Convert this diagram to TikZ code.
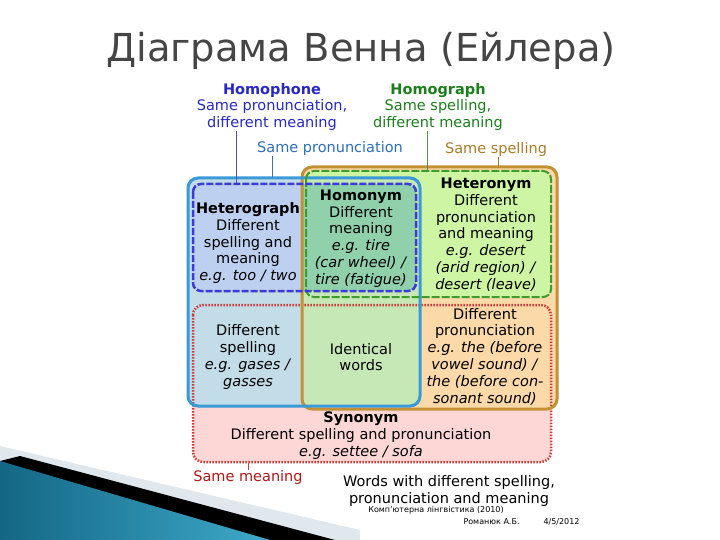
\documentclass[tikz,border=0pt]{standalone}
\usepackage{fontspec}
\setmainfont{DejaVu Sans}
\definecolor{pinkfill}{HTML}{FCD7D5}
\definecolor{orangefill}{HTML}{FBD9A8}
\definecolor{greenfill}{HTML}{CDF5A4}
\definecolor{bluefill}{HTML}{C2DDE8}
\definecolor{lavfill}{HTML}{BDD0EF}
\definecolor{identfill}{HTML}{C6E8B6}
\definecolor{homfill}{HTML}{90D1AC}
\definecolor{redline}{HTML}{CC3A3A}
\definecolor{blueline}{HTML}{3A9AD8}
\definecolor{dblueline}{HTML}{3B3BD6}
\definecolor{orangeline}{HTML}{C49035}
\definecolor{greenline}{HTML}{3C9C2C}
\definecolor{phonecol}{HTML}{2828C4}
\definecolor{graphcol}{HTML}{1C7E1C}
\definecolor{proncol}{HTML}{2E6FB8}
\definecolor{spellcol}{HTML}{A87D2A}
\definecolor{meancol}{HTML}{B01818}
\definecolor{titlecol}{HTML}{454545}
\definecolor{tealdark}{HTML}{146785}
\definecolor{teallight}{HTML}{3EA9C9}
\definecolor{stripecol}{HTML}{E0E8EE}
\begin{document}
\begin{tikzpicture}[x=1pt,y=-1pt,
    txt/.style={align=center,inner sep=0pt,font=\fontsize{14.5}{16.8}\selectfont},
    foot/.style={inner sep=0pt,font=\fontsize{8}{9}\selectfont},
    leader/.style={line width=0.8pt},
    box/.style={rounded corners=10},
    inbox/.style={rounded corners=8}]
    \useasboundingbox[fill=white] (0,0) rectangle (720,540);
    %title
    \node[anchor=base,font=\fontsize{38.5}{40}\selectfont,text=titlecol] (title) at (361,62) {Діаграма Венна (Ейлера)};
    %corner
    \fill[stripecol] (0,446) -- (360,530) -- (360,540) -- (0,540) -- cycle;
    \fill[black] (20,456) -- (335,540) -- (0,540) -- (0,461) -- cycle;
    \shade[left color=tealdark,right color=teallight] (0,461) -- (270,540) -- (0,540) -- cycle;
    %fills
    \fill[pinkfill,box] (193,305) rectangle (551,462);
    \fill[orangefill,box] (302,167) rectangle (557,409);
    \fill[greenfill,inbox] (306,171) rectangle (551,297);
    \fill[bluefill,box] (188,178) rectangle (420,406);
    \fill[lavfill,inbox] (193,184) rectangle (416,291);
    \begin{scope}
        \clip[box] (302,167) rectangle (557,409);
        \fill[identfill,box] (188,178) rectangle (420,406);
        \fill[homfill,inbox] (193,184) rectangle (416,291);
    \end{scope}
    %outlines
    \draw[redline,line width=2.5,dash pattern=on 1.5 off 1.5,box] (193,305) rectangle (551,462);
    \draw[orangeline,line width=3,box] (302,167) rectangle (557,409);
    \draw[blueline,line width=3,box] (188,178) rectangle (420,406);
    \draw[greenline,line width=2,dash pattern=on 8 off 2,inbox] (306,171) rectangle (551,297);
    \draw[dblueline,line width=2.5,dash pattern=on 7 off 2,inbox] (193,184) rectangle (416,291);
    %labels outside
    \node[txt,text=phonecol] (hphone) at (272,107) {\textbf{Homophone}\\Same pronunciation,\\different meaning};
    \node[txt,text=graphcol] (hgraph) at (438,107) {\textbf{Homograph}\\Same spelling,\\different meaning};
    \node[txt,text=proncol] (lblpron) at (330,149) {Same pronunciation};
    \node[txt,text=spellcol] (lblspell) at (496,150) {Same spelling};
    \node[txt,text=meancol] (lblmean) at (248,477) {Same meaning};
    \coordinate (hphone-end) at (236,183);
    \coordinate (hgraph-end) at (427,170);
    \coordinate (pron-end) at (272,177);
    \coordinate (spell-end) at (498,166);
    \coordinate (mean-end) at (248,463);
    \draw[leader,color=dblueline!70!gray] (hphone.south -| hphone-end) -- (hphone-end);
    \draw[leader,color=greenline!60!gray] (hgraph.south -| hgraph-end) -- (hgraph-end);
    \draw[leader,color=proncol!80!gray] (lblpron.south -| pron-end) -- (pron-end);
    \draw[leader,color=spellcol] (lblspell.south -| spell-end) -- (spell-end);
    \draw[leader,color=redline] (lblmean.north -| mean-end) -- (mean-end);
    %regions
    \node[txt] (hetgraph) at (248,243) {\textbf{Heterograph}\\Different\\spelling and\\meaning\\\textit{e.g. too / two}};
    \node[txt] (homonym) at (361,238.5) {\textbf{Homonym}\\Different\\meaning\\\textit{e.g. tire}\\\textit{(car wheel) /}\\\textit{tire (fatigue)}};
    \node[txt] (hetonym) at (486,234.5) {\textbf{Heteronym}\\Different\\pronunciation\\and meaning\\\textit{e.g. desert}\\\textit{(arid region) /}\\\textit{desert (leave)}};
    \node[txt] (diffspell) at (248,357) {Different\\spelling\\\textit{e.g. gases /}\\\textit{gasses}};
    \node[txt] (ident) at (361,357) {Identical\\words};
    \node[txt] (diffpron) at (485,356.5) {Different\\pronunciation\\\textit{e.g. the (before}\\\textit{vowel sound) /}\\\textit{the (before con-}\\\textit{sonant sound)}};
    \node[txt] (synonym) at (361,435.5) {\textbf{Synonym}\\Different spelling and pronunciation\\\textit{e.g. settee / sofa}};
    \node[txt] (others) at (449,491) {Words with different spelling,\\pronunciation and meaning};
    %footer
    \node[foot] (foota) at (436,510) {Комп'ютерна лінгвістика (2010)};
    \node[foot] (footb) at (521.5,522) {Романюк А.Б.\hspace*{24pt}4/5/2012};
\end{tikzpicture}
\end{document}
